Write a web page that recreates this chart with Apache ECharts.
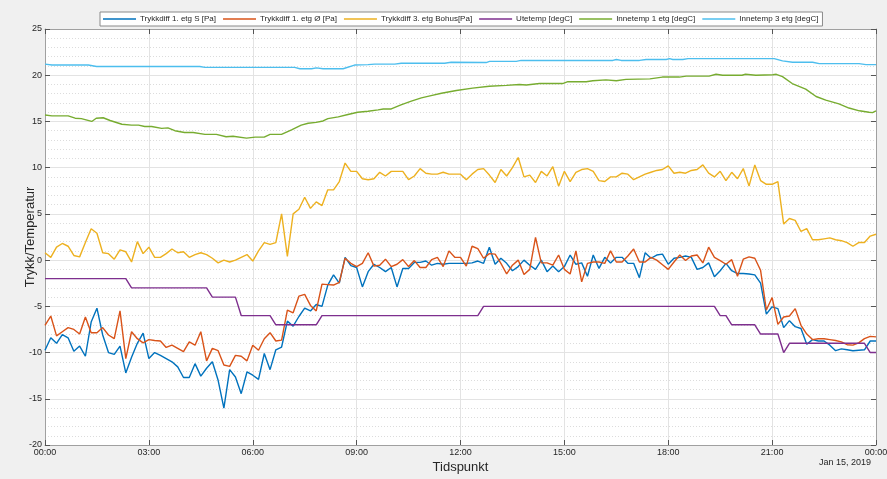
<!DOCTYPE html>
<html>
<head>
<meta charset="utf-8">
<title>Trykk og temperatur</title>
<script src="https://cdn.jsdelivr.net/npm/echarts@6/dist/echarts.min.js"></script>
<style>
  html, body { margin: 0; padding: 0; background: #f0f0f0; }
  #chart { width: 887px; height: 479px; }
</style>
</head>
<body>
<div id="chart"></div>
<script>
// Samples every 10 minutes from 00:00 to 24:00 (145 values per series)
const sampleStepHours = 10 / 60;

const trykkdiffS = [
  -9.75,-8.4,-9.0,-8.05,-8.4,-9.85,-9.3,-10.4,-6.7,-5.2,-8.1,-10.0,-10.2,-9.3,-12.2,-10.5,-9.0,-7.9,-10.65,-10.0,
  -10.3,-10.65,-11.0,-11.55,-12.7,-12.7,-11.2,-12.55,-11.7,-11.0,-13.0,-16.0,-11.85,-12.65,-14.45,-12.1,-12.45,-12.9,-10.1,-11.85,
  -9.7,-9.4,-6.6,-7.15,-6.1,-5.2,-5.5,-4.8,-5.0,-2.7,-1.6,
  -2.5,0.3,-0.6,-0.8,-2.9,-1.25,-0.45,-0.8,-1.25,-0.8,-2.9,-0.9,-0.9,-0.25,-0.25,-0.1,-0.55,-0.35,-0.45,-0.35,
  -0.35,-0.35,-0.35,-0.3,-0.1,-0.35,1.4,-0.45,0.2,-0.35,-1.15,-0.7,0.0,-0.55,-1.0,0.0,-1.25,-0.65,-1.25,-0.7,
  0.55,-0.45,-0.3,-1.75,0.55,
  -0.9,0.3,-0.3,0.3,0.3,-0.35,-0.35,-1.9,0.8,0.2,0.55,0.65,-0.45,0.2,0.3,0.45,0.3,-1.0,-0.8,-0.3,
  -1.8,-1.15,-0.35,-1.15,-1.45,-1.45,-1.5,-1.6,-2.5,-5.85,-5.05,-5.25,-7.3,-6.55,-7.2,-7.4,-9.1,-8.6,-8.75,-8.75,
  -9.2,-9.8,-9.6,-9.7,-9.8,-9.75,-9.7,-8.75,-8.75
];

const trykkdiffO = [
  -7.05,-6.05,-8.2,-7.75,-7.3,-7.5,-8.0,-6.15,-7.85,-7.85,-7.3,-8.1,-8.5,-5.5,-10.65,-7.75,-8.5,-8.95,-8.6,-8.7,
  -8.75,-9.45,-9.2,-9.55,-9.9,-8.85,-9.2,-7.75,-10.9,-9.55,-9.8,-11.35,-11.5,-10.3,-10.4,-10.9,-9.2,-9.75,-8.5,-7.85,
  -8.75,-8.65,-5.4,-5.7,-3.9,-3.7,-4.9,-5.5,-2.6,-2.65,-2.7,
  -2.4,0.2,-0.35,-0.7,-0.35,0.8,-0.65,-0.55,0.1,-0.7,-0.45,0.05,-0.7,-0.05,-0.8,-0.8,0.05,0.3,-0.7,1.0,
  0.3,0.3,-0.65,1.5,1.25,0.2,0.7,0.65,-0.35,-1.5,-0.55,0.0,-1.55,-1.0,2.45,-0.3,-0.3,-0.55,0.55,-1.0,
  -1.5,1.0,-2.35,-0.35,-0.2,
  -0.2,-0.35,1.0,-0.2,-0.2,0.45,1.2,-0.2,-0.2,0.3,0.0,-0.5,-1.0,-0.2,0.55,-0.05,0.45,0.55,-0.3,1.4,
  0.3,-0.05,-0.45,0.05,-1.75,0.1,0.35,0.2,-1.1,-5.4,-4.05,-6.95,-6.15,-6.05,-5.25,-7.05,-8.0,-8.6,-8.5,-8.5,
  -8.6,-8.7,-8.85,-9.15,-9.2,-8.95,-8.5,-8.25,-8.3
];

const trykkdiffBohus = [
  0.8,0.3,1.4,1.8,1.5,0.5,0.35,1.9,3.4,2.9,0.8,0.7,0.1,1.1,0.9,-0.2,2.0,0.7,1.4,0.3,
  0.3,0.7,1.2,0.8,0.9,0.3,0.6,0.8,0.6,0.2,-0.3,0.0,-0.2,0.0,0.3,0.6,-0.1,1.0,1.9,1.7,
  1.9,5.0,0.4,5.0,5.5,6.8,5.6,6.3,5.9,7.6,7.6,
  8.5,10.5,9.6,9.6,8.8,8.7,8.8,9.5,9.1,9.6,9.6,9.6,8.7,9.1,9.9,9.4,9.3,9.3,9.5,9.3,
  9.3,9.3,8.7,9.3,9.8,9.9,9.2,8.4,9.8,9.1,10.0,11.1,9.0,9.2,8.4,9.6,9.1,10.1,8.0,9.6,
  8.5,9.5,
  9.8,9.9,9.6,8.6,8.5,9.0,9.0,9.4,9.3,8.7,9.0,9.3,9.5,9.7,9.8,10.2,9.4,9.5,9.4,9.7,
  9.8,10.3,9.4,9.0,9.6,8.6,9.5,8.8,9.9,8.0,10.3,8.6,8.2,8.2,8.5,3.9,4.5,4.3,3.1,3.4,
  2.2,2.2,2.3,2.4,2.2,2.1,1.9,1.5,1.9,1.9,2.6,2.8
];

const utetemp = [
  -2,-2,-2,-2,-2,-2,-2,-2,-2,-2,-2,-2,-2,-2,-2,
  -3,-3,-3,-3,-3,-3,-3,-3,-3,-3,-3,-3,-3,-3,
  -4,-4,-4,-4,-4,
  -6,-6,-6,-6,-6,-6,
  -7,-7,-7,-7,-7,-7,-7,-7,
  -6,-6,-6,-6,-6,-6,-6,-6,-6,-6,-6,-6,-6,-6,-6,-6,-6,-6,-6,-6,-6,-6,-6,-6,-6,-6,-6,-6,
  -5,-5,-5,-5,-5,-5,-5,-5,-5,-5,-5,-5,-5,-5,-5,-5,-5,-5,-5,-5,-5,-5,-5,-5,-5,-5,-5,-5,-5,-5,
  -5,-5,-5,-5,-5,-5,-5,-5,-5,-5,-5,
  -6,-6,
  -7,-7,-7,-7,-7,
  -8,-8,-8,-8,
  -10,
  -9,-9,-9,-9,-9,-9,-9,-9,-9,-9,-9,-9,-9,-9,
  -10,-10
];

// Indoor temperatures, logged at irregular times (hours since midnight)
const innetemp1Hours = [
  0,0.2,0.67,0.87,1.05,1.35,1.48,1.68,1.88,2.22,2.5,2.7,2.88,3.08,3.37,3.55,3.75,4.03,4.28,4.62,
  4.95,5.23,5.43,5.82,6.07,6.33,6.5,6.83,7.12,7.4,7.6,7.83,8.03,8.17,8.47,8.75,9.03,9.33,9.62,9.77,
  10.0,10.28,10.58,10.87,11.15,11.45,11.88,12.35,12.83,13.32,13.7,13.9,14.28,14.95,15.1,15.63,15.82,16.2,16.5,16.78,
  17.47,17.83,18.32,18.52,19.18,19.38,19.57,20.13,20.23,20.53,21.02,21.12,21.3,21.58,21.97,22.27,22.55,22.93,23.22,23.52,
  23.8,23.9,24
];
const innetemp1 = [
  15.7,15.6,15.6,15.35,15.3,15.0,15.35,15.4,15.1,14.7,14.6,14.6,14.45,14.45,14.25,14.3,14.0,13.8,13.8,13.6,
  13.6,13.35,13.4,13.2,13.3,13.3,13.6,13.6,14.1,14.6,14.8,14.9,15.05,15.3,15.5,15.75,16.0,16.1,16.25,16.35,
  16.35,16.8,17.2,17.55,17.8,18.05,18.35,18.6,18.8,18.9,19.0,18.95,19.1,19.1,19.3,19.3,19.4,19.5,19.4,19.55,
  19.6,19.8,19.8,19.9,19.9,20.1,20.0,20.0,20.1,20.0,20.05,20.1,19.85,19.1,18.5,17.7,17.3,16.9,16.45,16.15,
  16.0,15.95,16.15
];

const innetemp3Hours = [
  0,0.2,1.25,1.49,4.47,4.62,7.21,7.36,7.7,7.84,8.03,8.61,8.94,9.33,9.52,10.1,10.29,11.54,11.73,
  12.74,12.84,13.61,13.75,16.4,16.5,16.64,17.17,17.36,17.94,18.04,18.13,18.42,18.57,21.06,21.3,21.59,22.17,22.36,23.51,
  23.71,24
];
const innetemp3 = [
  21.2,21.1,21.1,20.95,20.95,20.85,20.85,20.7,20.7,20.8,20.7,20.7,21.1,21.15,21.2,21.2,21.3,21.3,21.4,
  21.37,21.5,21.5,21.6,21.6,21.7,21.6,21.6,21.7,21.7,21.8,21.7,21.7,21.8,21.8,21.55,21.4,21.4,21.25,21.25,
  21.15,21.15
];

const seriesNames = [
  'Trykkdiff 1. etg S [Pa]',
  'Trykkdiff 1. etg Ø [Pa]',
  'Trykkdiff 3. etg Bohus[Pa]',
  'Utetemp [degC]',
  'Innetemp 1 etg [degC]',
  'Innetemp 3 etg [degC]'
];
const seriesColors = ['#0072BD', '#D95319', '#EDB120', '#7E2F8E', '#77AC30', '#4DBEEE'];

const xTicks = [0, 3, 6, 9, 12, 15, 18, 21, 24];

function onGrid(values) {
  return values.map((v, i) => [i * sampleStepHours, v]);
}
function paired(hours, values) {
  return hours.map((h, i) => [h, values[i]]);
}
function hhmm(h) {
  return String(h % 24).padStart(2, '0') + ':00';
}

const fontFamily = '"Liberation Sans", Arial, Helvetica, sans-serif';
const textColor = '#262626';
const frameColor = '#a0a0a0';
const tickStyle = { color: '#555' };

const seriesData = [
  onGrid(trykkdiffS),
  onGrid(trykkdiffO),
  onGrid(trykkdiffBohus),
  onGrid(utetemp),
  paired(innetemp1Hours, innetemp1),
  paired(innetemp3Hours, innetemp3)
];

const chart = echarts.init(document.getElementById('chart'), null, { renderer: 'canvas' });

chart.setOption({
  backgroundColor: '#f0f0f0',
  animation: false,
  textStyle: { fontFamily: fontFamily },
  title: {
    text: 'Jan 15, 2019',
    right: 16,
    top: 458,
    padding: 0,
    textStyle: { fontSize: 9, fontWeight: 'normal', color: textColor, fontFamily: fontFamily }
  },
  legend: {
    data: seriesNames,
    left: 100,
    top: 12,
    icon: 'rect',
    itemWidth: 33,
    itemHeight: 1.5,
    itemGap: 7,
    padding: [3, 4, 3, 3],
    backgroundColor: '#ffffff',
    borderColor: '#8a8a8a',
    borderWidth: 1,
    textStyle: { fontSize: 8, color: textColor, fontFamily: fontFamily, padding: [0, 0, 0, -1] }
  },
  grid: {
    left: 45, right: 11, top: 29, bottom: 34,
    containLabel: false,
    outerBoundsMode: 'none',
    show: true, backgroundColor: '#ffffff', borderWidth: 0
  },
  xAxis: [
    {
      type: 'value', min: xTicks[0], max: xTicks[xTicks.length - 1], interval: 3,
      position: 'bottom',
      name: 'Tidspunkt', nameLocation: 'middle', nameGap: 16, nameMoveOverlap: false,
      nameTextStyle: { fontSize: 13, color: textColor, fontFamily: fontFamily },
      axisLine: { show: true, onZero: false, lineStyle: { color: frameColor, width: 1 } },
      axisTick: { show: true, inside: true, length: 5, lineStyle: tickStyle },
      axisLabel: { formatter: hhmm, fontSize: 9, color: textColor, margin: 3 },
      splitLine: { show: true, lineStyle: { color: '#e3e3e3', width: 1 } }
    },
    {
      type: 'value', min: xTicks[0], max: xTicks[xTicks.length - 1], interval: 3,
      position: 'top',
      axisLine: { show: true, onZero: false, lineStyle: { color: frameColor, width: 1 } },
      axisTick: { show: true, inside: true, length: 5, lineStyle: tickStyle },
      axisLabel: { show: false },
      splitLine: { show: false }
    }
  ],
  yAxis: [
    {
      type: 'value', min: -20, max: 25, interval: 5,
      position: 'left',
      name: 'Trykk/Temperatur', nameLocation: 'middle', nameGap: 8, nameRotate: 90,
      nameMoveOverlap: false,
      nameTextStyle: { fontSize: 13, color: textColor, fontFamily: fontFamily },
      axisLine: { show: true, onZero: false, lineStyle: { color: frameColor, width: 1 } },
      axisTick: { show: true, inside: true, length: 5, lineStyle: tickStyle },
      axisLabel: { fontSize: 9, color: textColor, margin: 3 },
      splitLine: { show: true, lineStyle: { color: '#e3e3e3', width: 1 } },
      minorTick: { show: false, splitNumber: 5 },
      minorSplitLine: { show: true, lineStyle: { color: '#dcdcdc', type: [1, 2], width: 1 } }
    },
    {
      type: 'value', min: -20, max: 25, interval: 5,
      position: 'right',
      axisLine: { show: true, onZero: false, lineStyle: { color: frameColor, width: 1 } },
      axisTick: { show: true, inside: true, length: 5, lineStyle: tickStyle },
      axisLabel: { show: false },
      splitLine: { show: false }
    }
  ],
  series: seriesNames.map((name, k) => ({
    name: name,
    type: 'line',
    xAxisIndex: 0,
    yAxisIndex: 0,
    data: seriesData[k],
    symbol: 'none',
    color: seriesColors[k],
    lineStyle: { color: seriesColors[k], width: 1.4 },
    z: 2 + k
  }))
});
</script>
</body>
</html>
